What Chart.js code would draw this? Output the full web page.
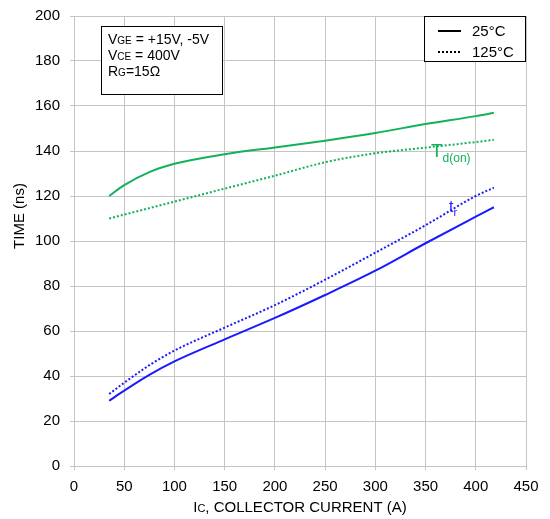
<!DOCTYPE html>
<html>
<head>
<meta charset="utf-8">
<script src="https://cdn.jsdelivr.net/npm/chart.js@4/dist/chart.umd.min.js"></script>
<style>
  html, body { margin: 0; padding: 0; background: #fff; }
  #wrap { width: 550px; height: 519px; position: relative; }
</style>
</head>
<body>
<div id="wrap"><canvas id="chart"></canvas></div>
<script>
// collector current (A) sample points
const currents = [35, 50, 75, 100, 150, 200, 250, 300, 350, 400, 418];
const tdon25 = [120, 124.8, 130.6, 134.3, 138.6, 141.6, 144.6, 148, 152, 155.5, 157];
const tdon125 = [110, 111.7, 114.6, 117.5, 123.3, 129, 135, 139, 141.5, 144, 145];
const tr25 = [29, 33.5, 40.5, 46.5, 56.3, 65.8, 76, 86.8, 99, 110.8, 115];
const tr125 = [32, 37, 44.8, 51.3, 61.5, 71.5, 82.8, 94.8, 107, 120, 123.7];

const GREEN = '#12b15a';
const BLUE = '#1a1aff';
const FONT = '"Liberation Sans", Arial, sans-serif';

const pts = (xs, ys) => xs.map((x, i) => ({ x: x, y: ys[i] }));

// draws text made of pieces: [text, size, yOffset]
function drawRich(ctx, x, y, parts, color) {
    ctx.fillStyle = color;
    ctx.textBaseline = 'alphabetic';
    ctx.textAlign = 'left';
    parts.forEach(p => {
        ctx.font = p[1] + 'px ' + FONT;
        ctx.fillText(p[0], x, y + (p[2] || 0));
        x += ctx.measureText(p[0]).width;
    });
}

const notes = {
    id: 'notes',
    afterDraw(chart) {
        const ctx = chart.ctx;
        ctx.save();

        // conditions box
        ctx.fillStyle = '#fff';
        ctx.fillRect(101, 26, 121, 68);
        ctx.strokeStyle = '#000';
        ctx.lineWidth = 1;
        ctx.strokeRect(101.5, 26.5, 121, 68);
        drawRich(ctx, 108, 44, [['V', 14], ['GE', 10], [' = +15V, -5V', 14]], '#000');
        drawRich(ctx, 108, 60, [['V', 14], ['CE', 10], [' = 400V', 14]], '#000');
        drawRich(ctx, 108, 76, [['R', 14], ['G', 10], ['=15\u03a9', 14]], '#000');

        // legend box
        ctx.fillStyle = '#fff';
        ctx.fillRect(424, 16, 102, 46);
        ctx.strokeStyle = '#000';
        ctx.strokeRect(424.5, 16.5, 101, 45);
        ctx.lineWidth = 2;
        ctx.beginPath();
        ctx.moveTo(438, 31);
        ctx.lineTo(461, 31);
        ctx.stroke();
        ctx.setLineDash([2, 2]);
        ctx.beginPath();
        ctx.moveTo(438, 52);
        ctx.lineTo(461, 52);
        ctx.stroke();
        ctx.setLineDash([]);
        drawRich(ctx, 472, 36, [['25\u00b0C', 15]], '#000');
        drawRich(ctx, 472, 57, [['125\u00b0C', 15]], '#000');

        // curve labels
        drawRich(ctx, 431, 157, [['T', 19], ['d(on)', 12, 5]], GREEN);
        drawRich(ctx, 449, 212, [['t', 16], ['r', 11, 4]], BLUE);

        // x axis title
        const a = chart.chartArea;
        ctx.font = '15px ' + FONT;
        const w1 = ctx.measureText('I').width;
        const w3 = ctx.measureText(', COLLECTOR CURRENT (A)').width;
        ctx.font = '11px ' + FONT;
        const w2 = ctx.measureText('C').width;
        const cx = (a.left + a.right) / 2;
        drawRich(ctx, cx - (w1 + w2 + w3) / 2, 512, [['I', 15], ['C', 11], [', COLLECTOR CURRENT (A)', 15]], '#000');

        // y axis title
        ctx.translate(24, 216);
        ctx.rotate(-Math.PI / 2);
        ctx.font = '15px ' + FONT;
        ctx.fillStyle = '#000';
        ctx.textAlign = 'center';
        ctx.textBaseline = 'alphabetic';
        ctx.fillText('TIME (ns)', 0, 0);

        ctx.restore();
    }
};

const line = (label, data, color, dotted) => ({
    label: label,
    data: data,
    borderColor: color,
    backgroundColor: color,
    borderWidth: 2,
    borderDash: dotted ? [2, 2] : [],
    pointRadius: 0,
    showLine: true,
    cubicInterpolationMode: 'monotone',
    fill: false
});

new Chart(document.getElementById('chart').getContext('2d'), {
    type: 'scatter',
    data: {
        datasets: [
            line('Td(on) 25C', pts(currents, tdon25), GREEN, false),
            line('Td(on) 125C', pts(currents, tdon125), GREEN, true),
            line('tr 25C', pts(currents, tr25), BLUE, false),
            line('tr 125C', pts(currents, tr125), BLUE, true)
        ]
    },
    options: {
        responsive: true,
        maintainAspectRatio: false,
        animation: false,
        layout: { padding: { left: 0, right: 24, top: 16, bottom: 0 } },
        scales: {
            x: {
                type: 'linear',
                min: 0,
                max: 450,
                ticks: {
                    stepSize: 50,
                    color: '#000',
                    font: { family: FONT, size: 15 },
                    padding: 8,
                    maxRotation: 0
                },
                grid: { color: '#c4c4c4', tickLength: 4 },
                border: { color: '#c4c4c4' },
                afterFit: function(scale) { scale.height = 53; }
            },
            y: {
                min: 0,
                max: 200,
                ticks: {
                    stepSize: 20,
                    color: '#000',
                    font: { family: FONT, size: 15 },
                    padding: 10
                },
                grid: { color: '#c4c4c4', tickLength: 4 },
                border: { color: '#c4c4c4' },
                afterFit: function(scale) {
                    scale.width = 74;
                    scale.paddingTop = 0;
                    scale.paddingBottom = 0;
                }
            }
        },
        plugins: {
            legend: { display: false },
            tooltip: { enabled: false }
        }
    },
    plugins: [notes]
});
</script>
</body>
</html>
